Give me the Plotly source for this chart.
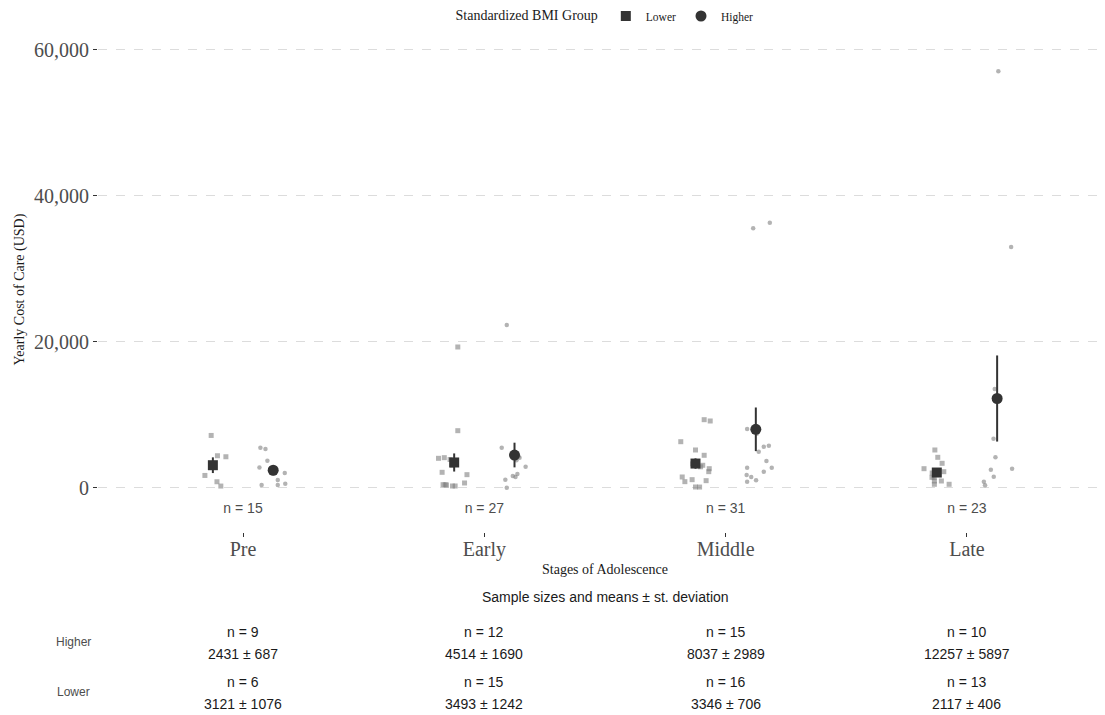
import plotly.graph_objects as go

# ---------------- data ----------------
stages = ["Pre", "Early", "Middle", "Late"]
groups = ["Lower", "Higher"]

lower_n = [6, 15, 16, 13]
lower_mean = [3121, 3493, 3346, 2117]
lower_sd = [1076, 1242, 706, 406]

higher_n = [9, 12, 15, 10]
higher_mean = [2431, 4514, 8037, 12257]
higher_sd = [687, 1690, 2989, 5897]

# individual yearly costs (USD) and horizontal jitter (stage units) per stage
lower_pre_cost = [7196, 4416, 4279, 1717, 854, 265]
lower_pre_jitter = [-0.007, 0.019, 0.054, -0.033, 0.017, 0.033]
higher_pre_cost = [5516, 5325, 3736, 2818, 2037, 1078, 393, 393, 585]
higher_pre_jitter = [-0.053, -0.032, -0.024, -0.057, 0.048, 0.019, -0.048, 0.019, 0.05]

lower_early_cost = [19315, 7850, 4064, 4155, 2146, 1826, 685, 452, 411, 274, 274, 3900, 3500, 3100, 443]
lower_early_jitter = [0.015, 0.015, -0.065, -0.041, -0.05, 0.053, 0.043, -0.046, -0.032, -0.007, 0.004,
                      -0.017, 0.008, -0.008, -0.037]
higher_early_cost = [22329, 5521, 4155, 2918, 1918, 1644, 1137, 41, 4900, 4300, 3800, 1505]
higher_early_jitter = [-0.032, -0.053, 0.021, 0.046, 0.012, -0.007, -0.038, -0.032, -0.004, 0.017, 0.008, 0.004]

lower_middle_cost = [9356, 9178, 6342, 5205, 4479, 3110, 2644, 2237, 1507, 868, 1142, 1005, 137, 3300, 2900, 126]
lower_middle_jitter = [0.036, 0.061, -0.061, 0.0, 0.036, 0.03, 0.057, 0.055, -0.055, -0.044, -0.014, 0.044,
                       0.0, -0.012, 0.021, 0.017]
higher_middle_cost = [35575, 36342, 8082, 4973, 5658, 5795, 3699, 2781, 2781, 1781, 1507, 2233, 868, 1055, 7425]
higher_middle_jitter = [-0.011, 0.058, -0.036, 0.012, 0.033, 0.054, 0.044, -0.036, 0.066, -0.038, -0.019,
                        0.033, -0.036, 0.001, 0.004]

lower_late_cost = [5205, 4201, 3379, 2644, 2233, 2055, 1411, 959, 959, 507, 507, 2000, 1461]
lower_late_jitter = [-0.008, 0.004, 0.022, -0.053, 0.029, -0.019, -0.011, 0.019, -0.01, -0.01, 0.051, 0.0, -0.02]
higher_late_cost = [57100, 33000, 13564, 6758, 4201, 2512, 2648, 1553, 868, 366]
higher_late_jitter = [0.005, 0.058, -0.01, -0.015, -0.007, -0.026, 0.062, -0.014, -0.055, -0.05]

y_ticks = [0, 20000, 40000, 60000]

lower_cost = [lower_pre_cost, lower_early_cost, lower_middle_cost, lower_late_cost]
lower_jit = [lower_pre_jitter, lower_early_jitter, lower_middle_jitter, lower_late_jitter]
higher_cost = [higher_pre_cost, higher_early_cost, higher_middle_cost, higher_late_cost]
higher_jit = [higher_pre_jitter, higher_early_jitter, higher_middle_jitter, higher_late_jitter]

# ---------------- styling / layout geometry ----------------
W, H = 1105, 715
OFF = 8                                # page body margin offset of the figure
# target panel on screen: x 98..1105, y 47..532
L, T = 98 - OFF, 47 - OFF
R = (W + OFF) - 1105
B = (H + OFF) - 532
PW, PH = W - L - R, H - T - B
SERIF = "Liberation Serif"
SANS = "Liberation Sans"
DARK = "#333333"
TXT = "#1a1a1a"
PT = "rgba(128,128,128,0.6)"
DODGE = 0.125
stage_pos = [i + 1 for i in range(len(stages))]


def px_x(px):
    return (px - OFF - L) / PW


def px_y(py):
    return (H - B - (py - OFF)) / PH


fig = go.Figure()

# jittered raw points
for costs, jits, off, sym, sz in [(lower_cost, lower_jit, -DODGE, "square", 5),
                                  (higher_cost, higher_jit, DODGE, "circle", 4.5)]:
    xs, ys = [], []
    for p, c, j in zip(stage_pos, costs, jits):
        xs += [p + off + d for d in j]
        ys += c
    fig.add_trace(go.Scatter(x=xs, y=ys, mode="markers", showlegend=False, hoverinfo="skip",
                             marker=dict(symbol=sym, size=sz, color=PT, line=dict(width=0))))

# means with error bars
fig.add_trace(go.Scatter(
    x=[p - DODGE for p in stage_pos], y=lower_mean, mode="markers", name=groups[0],
    marker=dict(symbol="square", size=10, color=DARK),
    error_y=dict(type="data", array=lower_sd, color=DARK, thickness=2, width=0)))
fig.add_trace(go.Scatter(
    x=[p + DODGE for p in stage_pos], y=higher_mean, mode="markers", name=groups[1],
    marker=dict(symbol="circle", size=11, color=DARK),
    error_y=dict(type="data", array=higher_sd, color=DARK, thickness=2, width=0)))

# total n labels inside the panel
total_n = [a + b for a, b in zip(lower_n, higher_n)]
fig.add_trace(go.Scatter(
    x=stage_pos, y=[-3000] * len(stages), mode="text", showlegend=False, hoverinfo="skip",
    text=[f"n = {n}" for n in total_n],
    textfont=dict(family=SANS, size=14, color="#4d4d4d")))

# ---------------- axis title + table below ----------------
ann = []
ann.append(dict(text="Stages of Adolescence", xref="paper", yref="paper", xanchor="center",
                yanchor="middle", x=px_x(605), y=px_y(569), showarrow=False,
                font=dict(family=SERIF, size=14, color=TXT)))
ann.append(dict(text="Sample sizes and means ± st. deviation", xref="paper", yref="paper",
                xanchor="center", yanchor="middle", x=px_x(605), y=px_y(597), showarrow=False,
                font=dict(family=SANS, size=14, color=TXT)))
for lab, yy in [(groups[1], 642), (groups[0], 692)]:
    ann.append(dict(text=lab, xref="paper", yref="paper", xanchor="center", yanchor="middle",
                    x=px_x(73), y=px_y(yy), showarrow=False,
                    font=dict(family=SANS, size=12, color="#4d4d4d")))
for ns, means, sds, y1, y2 in [(higher_n, higher_mean, higher_sd, 632, 654),
                               (lower_n, lower_mean, lower_sd, 682, 704)]:
    for p, n, m, s in zip(stage_pos, ns, means, sds):
        ann.append(dict(text=f"n = {n}", xref="x", yref="paper", xanchor="center", yanchor="middle",
                        x=p, y=px_y(y1), showarrow=False, font=dict(family=SANS, size=14, color=TXT)))
        ann.append(dict(text=f"{m} ± {s}", xref="x", yref="paper", xanchor="center", yanchor="middle",
                        x=p, y=px_y(y2), showarrow=False, font=dict(family=SANS, size=14, color=TXT)))

fig.update_layout(
    width=W, height=H,
    margin=dict(l=L, r=R, t=T, b=B, autoexpand=False),
    paper_bgcolor="white", plot_bgcolor="white",
    annotations=ann,
    legend=dict(orientation="h", xref="container", yref="container",
                x=(606 - OFF) / W, xanchor="center", y=1 - (16 - OFF) / H, yanchor="middle",
                title=dict(text="Standardized BMI Group", font=dict(family=SERIF, size=14, color=TXT)),
                font=dict(family=SERIF, size=11.5, color=TXT),
                itemwidth=30, tracegroupgap=0),
    xaxis=dict(range=[0.399, 4.572],
               tickmode="array", tickvals=stage_pos, ticktext=stages,
               showgrid=False, zeroline=False, showline=False,
               ticks="outside", ticklen=4, tickcolor=DARK, tickwidth=1,
               ticklabelstandoff=-5,
               tickfont=dict(family=SERIF, size=20, color="#4d4d4d")),
    yaxis=dict(range=[-6030, 60410],
               tickmode="array", tickvals=y_ticks, tickformat=",d",
               showgrid=True, gridcolor="#dcdcdc", griddash="dash", gridwidth=1,
               zeroline=False, showline=False,
               ticks="outside", ticklen=4, tickcolor=DARK, tickwidth=1,
               tickfont=dict(family=SERIF, size=20, color="#4d4d4d"),
               title=dict(text="Yearly Cost of Care (USD)", standoff=6,
                          font=dict(family=SERIF, size=14, color=TXT))),
)

fig.write_html("out.html")
